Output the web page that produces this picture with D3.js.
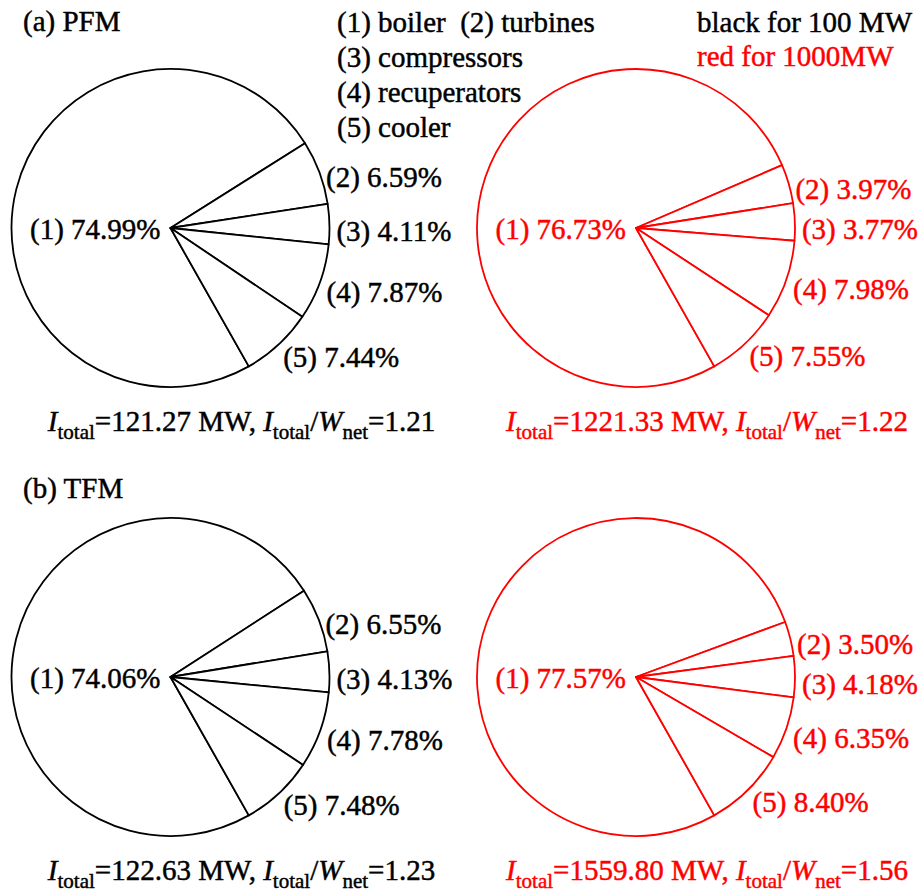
<!DOCTYPE html>
<html>
<head>
<meta charset="utf-8">
<script src="https://cdn.jsdelivr.net/npm/d3@7"></script>
<style>
  body { margin: 0; background: #fff; }
  text { font-family: "Liberation Serif", "Times New Roman", serif; font-size: 29px; white-space: pre; stroke-width: 0.45px; }
</style>
</head>
<body>
<div id="chart"></div>
<script>
(function() {
  var width = 921,
      height = 894;

  // DATA
  var components = ["boiler", "turbines", "compressors", "recuperators", "cooler"];
  var models = ["PFM", "TFM"];
  var panelLetters = ["a", "b"];
  var capacities = ["100 MW", "1000 MW"];
  var colors = ["#000000", "#ff0000"];

  // share of exergy destruction (%) for components (1)..(5)
  var pfm100 = [74.99, 6.59, 4.11, 7.87, 7.44];
  var pfm1000 = [76.73, 3.97, 3.77, 7.98, 7.55];
  var tfm100 = [74.06, 6.55, 4.13, 7.78, 7.48];
  var tfm1000 = [77.57, 3.50, 4.18, 6.35, 8.40];

  // total exergy destruction (MW) and ratio to net work
  var iTotal = [121.27, 1221.33, 122.63, 1559.80];
  var iRatio = [1.21, 1.22, 1.23, 1.56];

  var legendLines = ["(1) boiler  (2) turbines", "(3) compressors", "(4) recuperators", "(5) cooler"];
  var colorNotes = ["black for 100 MW", "red for 1000MW"];

  var panels = [
    {model: "PFM", cap: "100 MW", values: pfm100, total: iTotal[0], ratio: iRatio[0]},
    {model: "PFM", cap: "1000 MW", values: pfm1000, total: iTotal[1], ratio: iRatio[1]},
    {model: "TFM", cap: "100 MW", values: tfm100, total: iTotal[2], ratio: iRatio[2]},
    {model: "TFM", cap: "1000 MW", values: tfm1000, total: iTotal[3], ratio: iRatio[3]}
  ];

  var svg = d3.select("#chart")
        .append("svg")
        .attr("width", width)
        .attr("height", height);

  // SCALES
  var xPositionScale = d3.scalePoint().domain(capacities).range([170.5, 636]);
  var yPositionScale = d3.scalePoint().domain(models).range([228, 677]);
  var colorScale = d3.scaleOrdinal().domain(capacities).range(colors);

  var radius = 159;
  var start = 150.5 * Math.PI / 180;

  var pie = d3.pie()
        .sort(null)
        .startAngle(start)
        .endAngle(start + 2 * Math.PI);

  var arc = d3.arc().innerRadius(0).outerRadius(radius);
  var labelArc = d3.arc().innerRadius(radius + 7).outerRadius(radius + 7);

  // panel titles
  var titleY = {PFM: 31, TFM: 498};
  models.forEach(function(m, i) {
    svg.append("text")
      .attr("x", 23)
      .attr("y", titleY[m])
      .attr("stroke", "#000")
      .text("(" + panelLetters[i] + ") " + m);
  });

  // legend
  svg.append("g")
    .selectAll("text")
    .data(legendLines)
    .enter().append("text")
    .attr("x", 337)
    .attr("y", function(d, i) { return 32 + i * 35 })
    .attr("stroke", "#000")
    .text(function(d) { return d });

  svg.append("g")
    .selectAll("text")
    .data(colorNotes)
    .enter().append("text")
    .attr("x", 697)
    .attr("y", function(d, i) { return 32 + i * 34 })
    .attr("fill", function(d, i) { return colors[i] })
    .attr("stroke", function(d, i) { return colors[i] })
    .text(function(d) { return d });

  // PIES
  panels.forEach(function(p) {
    var cx = xPositionScale(p.cap),
        cy = yPositionScale(p.model),
        color = colorScale(p.cap);

    var g = svg.append("g")
          .attr("transform", "translate(" + cx + "," + cy + ")");

    var slices = pie(p.values);

    g.selectAll("path")
      .data(slices)
      .enter().append("path")
      .attr("d", arc)
      .attr("fill", "#fff")
      .attr("stroke", color)
      .attr("stroke-width", 1.8)
      .attr("stroke-linejoin", "round");

    g.selectAll(".slice-label")
      .data(slices)
      .enter().append("text")
      .attr("class", "slice-label")
      .attr("fill", color)
      .attr("stroke", color)
      .attr("text-anchor", function(d, i) { return i === 0 ? "end" : "start" })
      .attr("x", function(d, i) { return i === 0 ? -10 : labelArc.centroid(d)[0] })
      .attr("y", function(d, i) { return i === 0 ? 11 : labelArc.centroid(d)[1] + 17 })
      .text(function(d, i) { return "(" + (i + 1) + ") " + d.data.toFixed(2) + "%" });

    // I_total line under each pie
    var t = g.append("text")
          .attr("x", 71)
          .attr("y", 203)
          .attr("text-anchor", "middle")
          .attr("fill", color)
          .attr("stroke", color);

    t.append("tspan").attr("font-style", "italic").text("I");
    t.append("tspan").attr("font-size", "21px").attr("dy", 8).text("total");
    t.append("tspan").attr("dy", -8).text("=" + p.total.toFixed(2) + " MW, ");
    t.append("tspan").attr("font-style", "italic").text("I");
    t.append("tspan").attr("font-size", "21px").attr("dy", 8).text("total");
    t.append("tspan").attr("dy", -8).text("/");
    t.append("tspan").attr("font-style", "italic").text("W");
    t.append("tspan").attr("font-size", "21px").attr("dy", 8).text("net");
    t.append("tspan").attr("dy", -8).text("=" + p.ratio.toFixed(2));
  });

})();
</script>
</body>
</html>
